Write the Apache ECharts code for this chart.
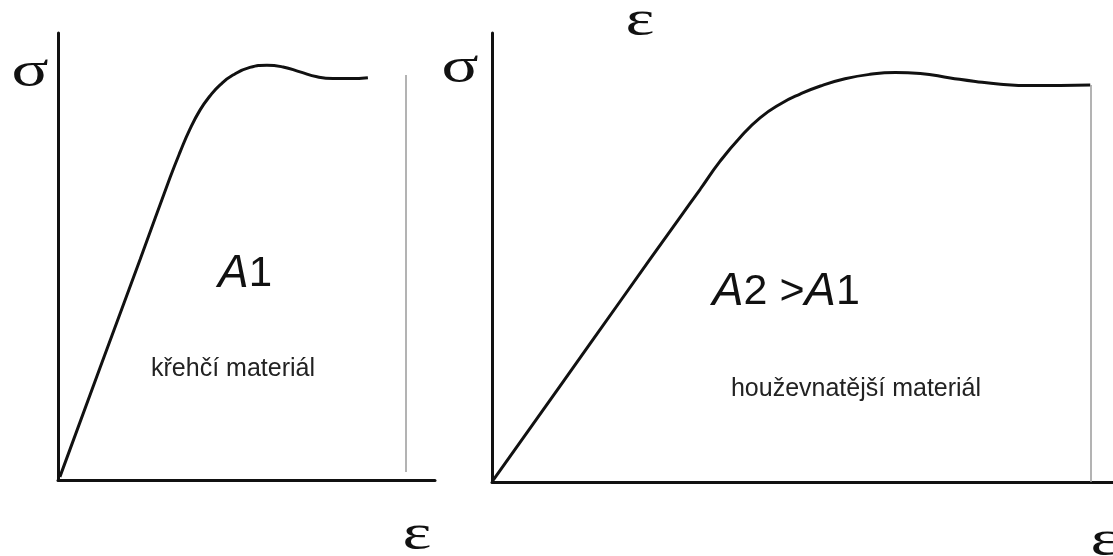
<!DOCTYPE html>
<html lang="cs">
<head>
    <meta charset="UTF-8">
    <script src="https://cdn.jsdelivr.net/npm/echarts@6/dist/echarts.min.js"></script>
    <title>Pracovní diagram</title>
</head>
<body style="margin:0;background:#fff">
<div id="main" style="width:1113px;height:556px;"></div>

<script type="text/javascript">
// křehčí materiál (left curve), strain / stress in relative units 0..100
var strainBrittle = [0.5, 11.1, 21.8, 29.7, 32.4, 35.0, 37.7, 40.3, 43.0, 46.4, 50.9, 55.4, 59.7, 64.2, 68.7, 72.9, 77.5, 82.2];
var stressBrittle = [0.7, 25.0, 49.4, 67.6, 73.4, 78.5, 82.8, 85.9, 88.4, 90.6, 92.3, 92.8, 92.4, 91.3, 90.2, 89.8, 89.8, 90.0];
// houževnatější materiál (right curve)
var strainTough = [0.2, 11.4, 21.4, 31.4, 34.8, 38.1, 41.5, 44.8, 48.2, 51.5, 54.9, 59.0, 63.2, 67.4, 71.6, 76.6, 80.8, 85.0, 90.0, 95.0, 100];
var stressTough = [0.4, 21.4, 40.2, 58.9, 65.2, 71.4, 76.8, 81.1, 84.2, 86.4, 88.2, 89.8, 90.8, 91.2, 91.0, 90.0, 89.2, 88.6, 88.3, 88.3, 88.4];
// grey vertical lines at failure strain: [strain, stressFrom, stressTo]
var breakBrittle = [92.3, 1.8, 90.6];
var breakTough = [100, 0, 88.4];

function pairs(xs, ys) {
    var out = [];
    for (var i = 0; i < xs.length; i++) out.push([xs[i], ys[i]]);
    return out;
}

function breakLine(b) {
    return {
        silent: true,
        symbol: 'none',
        label: { show: false },
        lineStyle: { color: '#9a9a9a', width: 1.5, type: 'solid' },
        data: [[{ coord: [b[0], b[1]] }, { coord: [b[0], b[2]] }]]
    };
}

var axisStyle = {
    axisLine: { show: true, onZero: false, lineStyle: { color: '#111', width: 3 } },
    axisTick: { show: false },
    axisLabel: { show: false },
    splitLine: { show: false }
};

var serif = '"Liberation Serif", "DejaVu Serif", serif';
var sans = '"Liberation Sans", Arial, sans-serif';

// greek axis symbols, a little wider than the stock serif glyph
function sym(x, y, t) {
    return {
        type: 'text', x: x, y: y, scaleX: 1.35,
        style: { text: t, font: '51px ' + serif, fill: '#111', textAlign: 'center', textVerticalAlign: 'middle' }
    };
}

var myChart = echarts.init(document.getElementById('main'));

var option = {
    backgroundColor: '#fff',
    animation: false,
    grid: [
        { left: 58, top: 33, width: 377, height: 447 },
        { left: 492, top: 33, width: 621, height: 449 }
    ],
    xAxis: [
        Object.assign({ type: 'value', gridIndex: 0, min: 0, max: 100 }, axisStyle),
        Object.assign({ type: 'value', gridIndex: 1, min: 0, max: 103.8 }, axisStyle)
    ],
    yAxis: [
        Object.assign({ type: 'value', gridIndex: 0, min: 0, max: 100 }, axisStyle),
        Object.assign({ type: 'value', gridIndex: 1, min: 0, max: 100 }, axisStyle)
    ],
    series: [
        {
            type: 'line', xAxisIndex: 0, yAxisIndex: 0,
            data: pairs(strainBrittle, stressBrittle),
            smooth: 0.5, showSymbol: false,
            lineStyle: { color: '#111', width: 3 },
            markLine: breakLine(breakBrittle)
        },
        {
            type: 'line', xAxisIndex: 1, yAxisIndex: 1,
            data: pairs(strainTough, stressTough),
            smooth: 0.5, showSymbol: false,
            lineStyle: { color: '#111', width: 3 },
            markLine: breakLine(breakTough)
        }
    ],
    graphic: [
        sym(30, 73, 'σ'),
        sym(417, 536, 'ε'),
        sym(460, 69, 'σ'),
        sym(640, 22, 'ε'),
        sym(1105, 542, 'ε'),
        {
            type: 'text', x: 245, y: 274,
            style: {
                text: '{a|A}{n|1}', textAlign: 'center', textVerticalAlign: 'middle',
                rich: {
                    a: { fontFamily: sans, fontStyle: 'italic', fontSize: 46, fill: '#111' },
                    n: { fontFamily: sans, fontSize: 42, fill: '#111' }
                }
            }
        },
        {
            type: 'text', x: 233, y: 369,
            style: { text: 'křehčí materiál', font: '25px ' + sans, fill: '#222', textAlign: 'center', textVerticalAlign: 'middle' }
        },
        {
            type: 'text', x: 786, y: 292,
            style: {
                text: '{a|A}{n|2 >}{a|A}{n|1}', textAlign: 'center', textVerticalAlign: 'middle',
                rich: {
                    a: { fontFamily: sans, fontStyle: 'italic', fontSize: 47, fill: '#111' },
                    n: { fontFamily: sans, fontSize: 43, fill: '#111' }
                }
            }
        },
        {
            type: 'text', x: 856, y: 389,
            style: { text: 'houževnatější materiál', font: '25px ' + sans, fill: '#222', textAlign: 'center', textVerticalAlign: 'middle' }
        }
    ]
};

myChart.setOption(option);
</script>
</body>
</html>
